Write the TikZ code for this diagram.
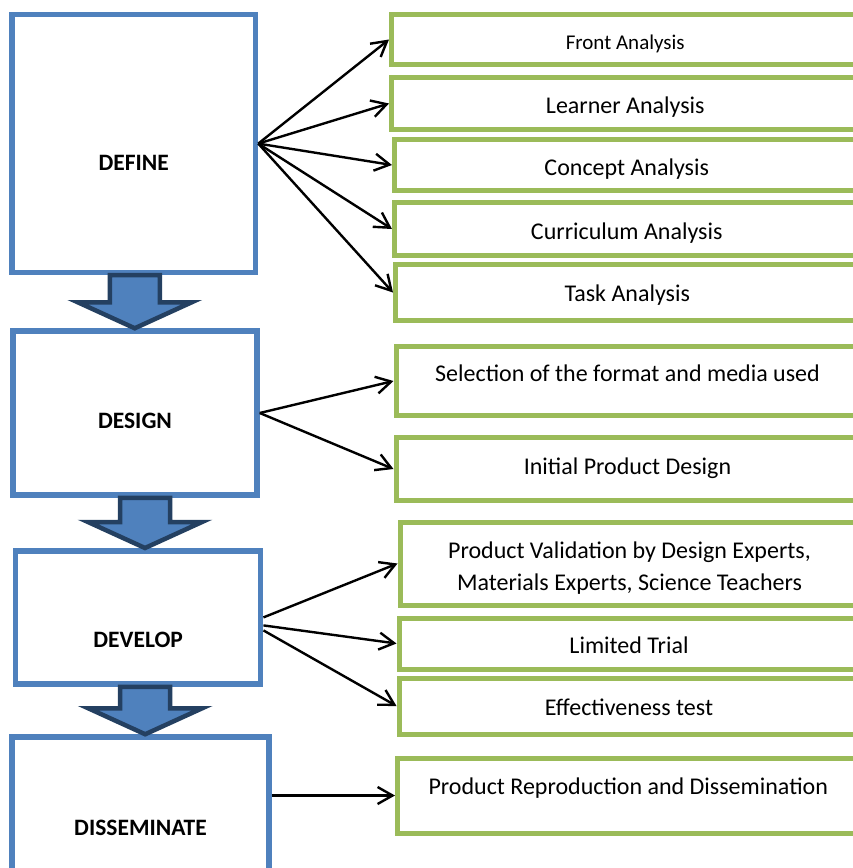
\documentclass[tikz,border=0pt]{standalone}
\usepackage{fontspec}
\setmainfont{Carlito}
\usetikzlibrary{arrows.meta, positioning, calc}

\definecolor{StageBlue}{RGB}{79, 129, 189}
\definecolor{StageNavy}{RGB}{36, 64, 97}
\definecolor{StepGreen}{RGB}{155, 187, 89}

% block arrow from one stage down to the next (#3 = sideways shift)
\newcommand{\stagearrow}[3]{%
  \draw [blockarrow] let \p1 = ([xshift=#3]#1.south), \p2 = (#2.north) in
    (\x1-25pt,\y1) -- (\x1+25pt,\y1) -- (\x1+25pt,\y2+26pt) -- (\x1+57pt,\y2+26pt)
    -- (\x1,\y2) -- (\x1-57pt,\y2+26pt) -- (\x1-25pt,\y2+26pt) -- cycle;}

\begin{document}
\begin{tikzpicture}[x=1pt, y=-1pt]
        \tikzstyle{stage} = [rectangle, draw=StageBlue, line width=5.5pt, fill=white]
        \tikzstyle{stagetext} = [font=\fontsize{23.5}{28}\selectfont\bfseries]
        \tikzstyle{task} = [rectangle, draw=StepGreen, line width=5pt, fill=white, align=center, text height=24pt, font=\fontsize{24}{32}\selectfont]
        \tikzstyle{arrow} = [-{Straight Barb[length=15pt, width=17pt]}, line width=2.4pt]
        \tikzstyle{blockarrow} = [fill=StageBlue, draw=StageNavy, line width=4.5pt]

        \path [use as bounding box, fill=white] (0,0) rectangle (853,868);
        \clip (0,0) rectangle (853,868);

        % Stages
        \node (define) [stage, minimum width=243.5pt, minimum height=257.75pt, label={[stagetext, yshift=-19.5pt]center:DEFINE}] at (133.75,143.6) {};
        \node (design) [stage, minimum width=244pt, minimum height=164pt, label={[stagetext, yshift=-7.5pt]center:DESIGN}] at (135,413) {};
        \node (develop) [stage, minimum width=245pt, minimum height=133.3pt, label={[stagetext, yshift=-22pt]center:DEVELOP}] at (138.2,617.4) {};
        \node (disseminate) [stage, minimum width=257pt, minimum height=163pt, label={[stagetext, yshift=-9pt]center:DISSEMINATE}] at (140.5,818.5) {};

        % Steps of each stage
        \node (front) [task, minimum width=467.5pt, minimum height=50pt, font=\fontsize{21}{26}\selectfont] at (625.25,39.5) {Front Analysis};
        \node (learner) [task, minimum width=467.5pt, minimum height=52pt] at (625.25,103.5) {Learner Analysis};
        \node (concept) [task, minimum width=464.5pt, minimum height=51pt] at (626.75,165) {Concept Analysis};
        \node (curriculum) [task, minimum width=464.5pt, minimum height=53pt] at (626.75,229) {Curriculum Analysis};
        \node (taskan) [task, minimum width=463.5pt, minimum height=56pt, text height=21pt] at (627.25,292.5) {Task Analysis};

        \node (selection) [task, minimum width=463pt, minimum height=69.5pt, text depth=23pt] at (627.5,381) {Selection of the format and media used};
        \node (initial) [task, minimum width=463pt, minimum height=63.5pt, text height=15pt] at (627.5,469) {Initial Product Design};

        \node (validation) [task, minimum width=459pt, minimum height=83pt, text height=58pt] at (629.5,563.5) {Product Validation by Design Experts,\\Materials Experts, Science Teachers};
        \node (limited) [task, minimum width=460pt, minimum height=51pt, text height=20pt] at (629,643.5) {Limited Trial};
        \node (effect) [task, minimum width=460pt, minimum height=56pt, text height=19pt] at (629,706) {Effectiveness test};

        \node (reproduction) [task, minimum width=461.5pt, minimum height=75pt, text depth=27pt] at (628.25,795.5) {Product Reproduction and Dissemination};

        % Block arrows between stages
        \stagearrow{define}{design}{1pt}
        \stagearrow{design}{develop}{10pt}
        \stagearrow{develop}{disseminate}{7pt}

        % Arrows
        \draw [arrow] (define.east) -- (front.west);
        \draw [arrow] (define.east) -- (learner.west);
        \draw [arrow] (define.east) -- (concept.west);
        \draw [arrow] (define.east) -- (curriculum.west);
        \draw [arrow] (define.east) -- (taskan.west);

        \draw [arrow] (design.east) -- (selection.west);
        \draw [arrow] (design.east) -- (initial.west);

        \draw [arrow] (develop.east) -- (validation.west);
        \draw [arrow] ([yshift=-8pt]develop.east) -- (limited.west);
        \draw [arrow] ([yshift=-13pt]develop.east) -- (effect.west);

        \draw [arrow] (disseminate.east |- reproduction.west) -- (reproduction.west);
    \end{tikzpicture}
\end{document}
